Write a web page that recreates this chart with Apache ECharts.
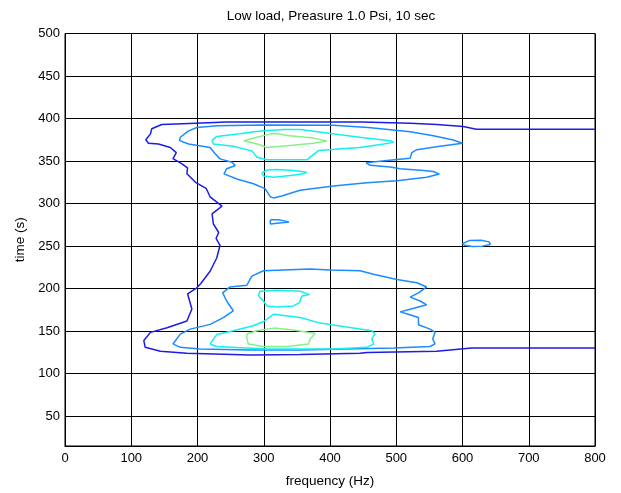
<!DOCTYPE html>
<html>
<head>
<meta charset="utf-8">
<script src="https://cdn.jsdelivr.net/npm/echarts@6/dist/echarts.min.js"></script>
<style>
html,body{margin:0;padding:0;background:#fff;}
#chart{width:621px;height:493px;}
</style>
</head>
<body>
<div id="chart"></div>
<script>
// Axis ticks / ranges
const xTicks = [0,100,200,300,400,500,600,700,800];
const yTicks = [50,100,150,200,250,300,350,400,450,500];
const yRange = [15, 500];

// Contour level 1 (dark blue) - open curve [frequency Hz, time s]
const level1Outer = [[800,387.5],[621,387.5],[601,390.7],[561,393],[521,394.5],[448,396],[355,396],[244,396],[197,394.5],[146,393],[131,388],[129,382],[122,375],[126,371],[141,370],[159,366],[168,360],[163,353],[176,347],[185,342],[184,335],[197,325],[213,318],[219,308],[237,297],[222,288],[224,276],[232,266],[228,259],[234,251],[229,236],[219,220.5],[205,206],[199,201],[185,194],[191.5,176],[184,162],[154,154],[129,148.6],[119,139],[121,131],[144,126.5],[184,124],[280,122],[355,122.6],[445,124],[456,125],[561,126.5],[614,130.3],[800,130.3]];

// Contour level 2 (medium blue)
const level2Top = [[199,389.5],[186.5,385.5],[174,378],[173,374],[186.5,370],[219,366],[227,358.4],[234,352.6],[252,348.7],[257,344.8],[244,341],[240,335],[259.5,329],[284.5,323.4],[302,317.6],[310,308],[315,306.7],[327,309],[355,315.6],[405,320.7],[455.6,324.6],[501,327],[546,331],[565,334.7],[556,337.8],[541,339],[506,341],[491,343],[460.5,345],[454.5,348],[486,350.6],[521,353.4],[523.5,360],[531,363.4],[566,367.4],[600,371],[586,374.7],[556,379.7],[521,384.4],[458,389.5],[405,392],[300,392.5],[230,391.5],[199,389.5]];
const level2Bottom = [[282,214.7],[299.6,221],[370,223],[400,222],[445.5,221],[465.5,217],[501,210.7],[531,207],[546,202],[533.5,195],[521,190],[536,185.5],[546,181],[521,175.8],[506,172.7],[518,170],[533.5,166],[533.5,157.6],[551,152.4],[558.6,148.6],[555,140.8],[558.6,135],[551,132],[496,130.3],[355,128],[279.5,128],[204,129],[174,131],[163,135],[174,146.6],[189,152.4],[219,158],[239,166],[254,174],[244,185.5],[238,195],[249,202],[274.5,204],[282,214.7]];
const level2Blob = [[600,253],[610,256.5],[628,257],[640,255],[642,252],[630,250],[615,249.5],[603,251],[600,253]];
const level2Small = [[310,281],[322,281],[323,279],[338,278.5],[339,276.5],[310,276],[309,278],[310,281]];

// Contour level 3 (cyan)
const level3Top = [[229,379],[264,382],[295,385.5],[330,387],[355,387],[395,383],[445,378],[491,374],[496,372],[481,370],[445,366],[383,362.5],[365,351.5],[305,351.5],[290,354.5],[282,362],[254,367.5],[224,370],[222,374],[229,379]];
const level3Mid = [[297,336],[305,339.5],[320,340],[345,339],[365,337],[360,335],[340,333],[315,331],[300,332.5],[297,336]];
const level3Lower = [[292,193],[294.6,197],[320,198],[355,197],[369,193],[357.5,191.4],[354,183.6],[345,179.7],[320,178.5],[304.7,179.7],[299.6,185.5],[293.6,190],[292,193]];
const level3Bottom = [[219,135],[229,146],[254,150.6],[284,156.4],[300,161.4],[315,170],[330,168.5],[355,166],[385,159.5],[430,154.4],[463,150.6],[468,146.6],[463,141],[466,135],[456,131],[405,129],[305,129],[229,132],[219,135]];

// Contour level 4 (light green)
const level4Top = [[270,374],[290,378],[310,382],[320,382.5],[335,380],[375,377],[395,373.5],[375,371],[335,368],[305,366],[290,370],[270,374]];
const level4Bottom = [[274.5,146.6],[289.6,150.6],[315,153.6],[345,151.3],[377.6,147.4],[370,140.8],[367.5,135],[335,132],[299.6,132],[277,135],[274.5,140.8],[274.5,146.6]];

const levelColors = ['#1c1ce8','#1a8cff','#14f0f0','#88f088'];

const contours = [
  {data: level1Outer, level: 0},
  {data: level2Top, level: 1},
  {data: level2Bottom, level: 1},
  {data: level2Blob, level: 1},
  {data: level2Small, level: 1},
  {data: level3Top, level: 2},
  {data: level3Mid, level: 2},
  {data: level3Lower, level: 2},
  {data: level3Bottom, level: 2},
  {data: level4Top, level: 3},
  {data: level4Bottom, level: 3}
];

const chart = echarts.init(document.getElementById('chart'), null, {renderer: 'canvas'});
const font = 'Liberation Sans, Arial, Helvetica, sans-serif';

chart.setOption({
  animation: false,
  backgroundColor: '#fff',
  title: {
    text: 'Low load, Preasure 1.0 Psi, 10 sec',
    left: 326,
    top: 4,
    textAlign: 'center',
    textStyle: {fontFamily: font, fontSize: 13.5, fontWeight: 'normal', color: '#000'}
  },
  grid: {left: 65, right: 26, top: 33.5, bottom: 30.5, show: true, borderColor: '#000', borderWidth: 1, backgroundColor: 'transparent'},
  xAxis: {
    type: 'value', min: xTicks[0], max: xTicks[xTicks.length-1], interval: 100,
    name: 'frequency (Hz)', nameLocation: 'middle', nameGap: 28,
    nameTextStyle: {fontFamily: font, fontSize: 13.5, color: '#000'},
    axisLine: {show: true, lineStyle: {color: '#000'}},
    axisTick: {show: true, inside: true, length: 4, lineStyle: {color: '#000'}},
    axisLabel: {fontFamily: font, fontSize: 13, color: '#000', margin: 6},
    splitLine: {show: true, lineStyle: {color: '#000', width: 1}}
  },
  yAxis: {
    type: 'value', min: yRange[0], max: yRange[1],
    name: 'time (s)', nameLocation: 'middle', nameGap: 34,
    nameTextStyle: {fontFamily: font, fontSize: 13.5, color: '#000'},
    axisLine: {show: true, lineStyle: {color: '#000'}},
    axisTick: {show: true, inside: true, length: 4, lineStyle: {color: '#000'}, customValues: yTicks},
    axisLabel: {fontFamily: font, fontSize: 13, color: '#000', margin: 5, customValues: yTicks},
    splitLine: {show: true, lineStyle: {color: '#000', width: 1}}
  },
  series: contours.map(c => ({
    type: 'line',
    data: c.data,
    showSymbol: false,
    symbol: 'none',
    smooth: false,
    clip: true,
    lineStyle: {color: levelColors[c.level], width: 1.5},
    z: 3 + c.level
  }))
});
</script>
</body>
</html>
